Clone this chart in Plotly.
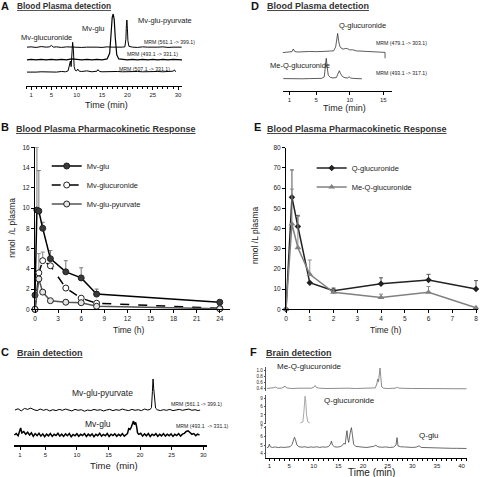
import plotly.graph_objects as go

W, H = 480, 477
FONT = "Liberation Sans, Arial, sans-serif"
INK = "#222222"

# ---------------- DATA ----------------
# Panel A: blood plasma chromatograms (time min, relative intensity %)
A_PYURVATE = [(0.2, 2), (1.0, 3), (2.0, 1), (3.0, 4), (4.0, 2), (4.6, 3), (5.0, 8), (5.4, 2), (6.0, 3), (7.0, 1),
              (8.0, 3), (9.0, 2), (10.0, 3), (11.0, 1), (12.0, 2), (13.0, 3), (14.0, 2), (15.0, 1), (16.0, 3),
              (17.0, 2), (18.0, 1), (19.0, 2), (19.5, 3), (19.7, 30), (19.8, 80), (19.9, 100), (20.0, 70),
              (20.1, 25), (20.3, 5), (20.6, 3), (21.0, 2), (22.0, 1), (23.0, 3), (24.0, 2), (25.0, 1), (26.0, 2),
              (27.0, 3), (28.0, 1), (29.0, 2), (30.0, 3), (30.7, 2)]
A_GLU = [(0.2, 1), (1.0, 2), (2.0, 1), (3.0, 2), (4.0, 1), (5.0, 2), (6.0, 1), (7.0, 2), (8.0, 1), (9.0, 3),
         (10.0, 2), (11.0, 1), (12.0, 2), (13.0, 1), (14.0, 2), (15.0, 1), (16.0, 3), (16.5, 15), (16.8, 60),
         (17.0, 92), (17.2, 100), (17.4, 88), (17.6, 50), (17.9, 12), (18.3, 3), (19.0, 2), (20.0, 1), (21.0, 2),
         (22.0, 1), (23.0, 2), (24.0, 1), (25.0, 2), (26.0, 1), (27.0, 2), (28.0, 1), (29.0, 2), (30.0, 1), (31.0, 1)]
A_GLUCURONIDE = [(0.2, 2), (1.0, 3), (2.0, 2), (3.0, 3), (4.0, 2), (5.0, 3), (6.0, 2), (7.0, 4), (7.8, 3), (8.3, 6),
                 (8.6, 30), (8.75, 38), (8.9, 20), (9.05, 60), (9.2, 100), (9.35, 75), (9.5, 20), (9.7, 8), (10.0, 6),
                 (10.2, 12), (10.5, 5), (11.0, 4), (12.0, 6), (13.0, 3), (14.0, 5), (14.2, 10), (14.5, 4), (15.0, 3),
                 (16.0, 4), (17.0, 3), (18.0, 4), (19.0, 3), (20.0, 4), (21.0, 3), (22.0, 4), (23.0, 3), (24.0, 4),
                 (25.0, 3), (26.0, 4), (27.0, 3), (28.0, 4), (29.0, 5), (29.3, 9), (29.5, 3)]
A_TICKS = [1, 5, 10, 15, 20, 25, 30]

# Panel D: blood plasma chromatograms
D_Q_GLUC = [(0.0, 0), (0.5, 2), (1.0, 3), (1.4, 5), (1.6, 19), (1.8, 6), (2.2, 3), (3.0, 5), (3.5, 4), (4.0, 6),
            (5.0, 5), (5.5, 7), (6.0, 6), (7.0, 8), (7.6, 9), (7.9, 30), (8.05, 75), (8.2, 100), (8.35, 60),
            (8.5, 35), (8.7, 24), (9.0, 18), (9.4, 22), (9.7, 20), (10.0, 14), (10.4, 15), (11.0, 9), (11.5, 8),
            (12.0, 6), (13.0, 4), (14.0, 3), (14.5, 2), (15.0, 2), (15.25, 1), (15.26, -30)]
D_MEQ_GLUC = [(0.1, 2), (1.0, 1), (2.0, 2), (3.0, 1), (4.0, 2), (5.0, 1), (5.8, 3), (6.2, 10), (6.35, 60),
              (6.5, 100), (6.65, 55), (6.8, 18), (7.1, 8), (7.5, 5), (8.0, 7), (8.3, 25), (8.45, 40), (8.6, 28),
              (8.9, 12), (9.3, 6), (9.7, 5), (9.9, 11), (10.1, 5), (10.5, 3), (11.0, 2), (11.8, 1)]
D_TICKS = [1, 5, 10, 15]

# Panel B: pharmacokinetics (nmol/L plasma vs h)
B_TIME = [0, 0.25, 0.5, 1, 2, 4, 6, 8, 24]
B_MVGLU = [1.4, 9.8, 9.7, 8.0, 5.0, 3.7, 3.1, 1.5, 0.7]
B_MVGLU_ERR = [0, 6.2, 4.0, 0.6, 0.8, 1.1, 1.0, 0.5, 0]
B_TIME2 = [0, 0.5, 1, 2, 4, 6, 8, 24]
B_GLUCURONIDE = [0, 3.6, 4.8, 4.3, 2.1, 1.1, 0.6, 0.1]
B_GLUCURONIDE_ERR = [0, 1.9, 0.85, 0, 0, 0, 0, 0]
B_PYURVATE = [0, 3.0, 1.7, 0.85, 0.7, 0.65, 0.3, 0.05]
B_PYURVATE_ERR = [0, 0, 0, 0, 0, 0, 0, 0]
B_XTICKS = [0, 3, 6, 9, 12, 15, 18, 21, 24]
B_YTICKS = [0, 2, 4, 6, 8, 10, 12, 14, 16]

# Panel E: pharmacokinetics
E_TIME = [0, 0.25, 0.5, 1, 2, 4, 6, 8]
E_Q = [0, 55.5, 41.0, 13.2, 9.2, 12.7, 14.5, 10.0]
E_Q_ERR = [0, 13.5, 5.5, 0, 1.3, 2.9, 2.8, 4.2]
E_MEQ = [0, 42.2, 30.5, 17.3, 8.4, 5.9, 8.4, 0.8]
E_MEQ_ERR = [0, 17.3, 15.5, 7.1, 1.6, 1.6, 2.9, 0]
E_XTICKS = [0, 1, 2, 3, 4, 5, 6, 7, 8]
E_YTICKS = [0, 10, 20, 30, 40, 50, 60, 70, 80]

# Panel C: brain chromatograms
C_PYURVATE = [(0.2, 0), (0.7, 4), (1.2, -3), (1.7, 5), (2.2, 2), (2.7, 6), (3.2, 1), (3.7, -2), (4.2, 3), (4.7, -1),
              (5.2, 2), (5.7, -3), (6.2, 1), (6.7, -2), (7.2, 2), (7.7, -1), (8.2, 3), (8.7, 0), (9.2, -3),
              (9.7, 2), (10.2, -1), (10.7, 1), (11.2, -4), (11.7, 0), (12.2, -2), (12.7, 2), (13.2, -1), (13.7, 1),
              (14.2, -3), (14.7, 0), (15.2, 2), (15.7, -2), (16.2, 1), (16.7, -1), (17.2, 3), (17.7, 0), (18.2, -2),
              (18.7, 2), (19.2, -1), (19.7, 1), (20.2, -2), (20.7, 3), (21.2, 0), (21.6, 2), (21.8, 8), (21.95, 60),
              (22.05, 100), (22.15, 70), (22.3, 25), (22.45, 6), (22.7, 1), (23.2, -2), (23.7, 1), (24.2, -1),
              (24.7, 2), (25.2, -2), (25.7, 0), (26.2, 2), (26.7, -1), (27.2, 1), (27.7, 3), (28.2, -1), (28.7, 1),
              (29.2, -2), (29.5, 0)]
C_GLU = [(0.1, 0), (0.4, 10), (0.7, -5), (0.9, 20), (1.1, 50), (1.3, 15), (1.6, 25), (1.9, 5), (2.2, 20), (2.5, 0),
         (2.8, 15), (3.1, -10), (3.4, 10), (3.7, -5), (4.0, 12), (4.3, -8), (4.6, 8), (4.9, -12), (5.2, 6),
         (5.5, -6), (5.8, 10), (6.1, -10), (6.4, 5), (6.7, -4), (7.0, 12), (7.3, -8), (7.6, 6), (7.9, -10),
         (8.2, 8), (8.5, -5), (8.8, 10), (9.1, -12), (9.4, 4), (9.7, -6), (10.0, 9), (10.3, -9), (10.6, 5),
         (10.9, -4), (11.2, 10), (11.5, -10), (11.8, 6), (12.1, -6), (12.4, 8), (12.7, -12), (13.0, 5), (13.3, -5),
         (13.6, 12), (13.9, -8), (14.2, 4), (14.5, -6), (14.8, 10), (15.1, -10), (15.4, 6), (15.7, -4), (16.0, 8),
         (16.3, -9), (16.6, 5), (16.9, -6), (17.2, 10), (17.5, -8), (17.8, 6), (18.0, 10), (18.2, 45), (18.4, 40),
         (18.6, 55), (18.8, 80), (18.95, 100), (19.1, 75), (19.3, 90), (19.45, 60), (19.6, 15), (19.8, 5),
         (20.1, 12), (20.4, -8), (20.7, 8), (21.0, -6), (21.3, 10), (21.6, -10), (21.9, 6), (22.2, -4), (22.5, 9),
         (22.8, -9), (23.1, 5), (23.4, -6), (23.7, 10), (24.0, -8), (24.3, 6), (24.6, -5), (24.9, 8), (25.2, -10),
         (25.5, 5), (25.8, -4), (26.1, 10), (26.4, -8), (26.7, 6), (27.0, 12), (27.3, 25), (27.6, 30), (27.9, 15),
         (28.2, 5), (28.5, 10), (28.8, -5), (29.1, 6), (29.4, 0)]
C_TICKS = [1, 5, 10, 15, 20, 25, 30]

# Panel F: brain chromatograms (own intensity scales)
F_MEQ_GLUC = [(0.5, 0.40), (1.5, 0.41), (2.0, 0.43), (2.3, 0.45), (2.6, 0.41), (3.5, 0.41), (3.9, 0.44), (4.2, 0.48),
              (4.5, 0.42), (5.5, 0.40), (7.0, 0.41), (8.5, 0.40), (9.5, 0.41), (10.0, 0.44), (10.3, 0.50),
              (10.6, 0.43), (11.2, 0.41), (12.5, 0.40), (14.0, 0.41), (15.5, 0.40), (17.0, 0.41), (18.5, 0.40),
              (20.0, 0.41), (21.5, 0.40), (22.5, 0.42), (22.8, 0.55), (23.0, 0.72), (23.15, 0.62), (23.3, 0.95),
              (23.45, 1.08), (23.6, 0.80), (23.8, 0.45), (24.2, 0.41), (25.0, 0.40), (26.5, 0.41), (27.0, 0.44),
              (27.3, 0.41), (28.5, 0.40), (30.0, 0.40), (32.0, 0.40), (34.0, 0.40), (36.0, 0.39), (38.0, 0.39),
              (40.0, 0.39), (41.0, 0.39)]
F_Q_GLUC = [(7.3, 0.1), (7.8, 0.5), (8.0, 4.0), (8.15, 8.5), (8.25, 9.8), (8.4, 7.5), (8.55, 3.0), (8.8, 0.5),
            (9.2, 0.1)]
F_Q_GLU = [(0.5, 4.70), (0.8, 4.75), (1.0, 5.10), (1.2, 4.80), (1.6, 4.72), (2.2, 4.78), (2.8, 4.70), (3.4, 4.76),
           (4.0, 4.72), (4.6, 4.78), (5.2, 4.80), (5.6, 5.05), (5.9, 5.70), (6.1, 5.90), (6.3, 5.60), (6.6, 5.00),
           (7.0, 4.80), (7.6, 4.75), (8.2, 4.80), (8.8, 4.72), (9.4, 4.78), (10.0, 4.74), (10.6, 4.80), (11.2, 4.72),
           (11.8, 4.78), (12.4, 4.75), (13.0, 4.82), (13.4, 5.10), (13.6, 5.45), (13.8, 5.00), (14.2, 4.80),
           (14.8, 4.76), (15.4, 4.82), (15.8, 4.95), (16.1, 5.20), (16.4, 5.10), (16.6, 6.10), (16.75, 6.65),
           (16.9, 5.80), (17.1, 5.30), (17.4, 6.40), (17.65, 7.00), (17.85, 6.20), (18.1, 5.10), (18.5, 4.85),
           (19.2, 4.78), (20.0, 4.75), (20.8, 4.72), (21.6, 4.78), (22.2, 4.85), (22.6, 4.98), (23.0, 4.80),
           (23.8, 4.74), (24.6, 4.78), (25.4, 4.72), (26.2, 4.76), (26.7, 5.00), (26.9, 5.85), (27.1, 4.90),
           (27.6, 4.80), (28.4, 4.78), (29.2, 4.74), (30.0, 4.72), (30.8, 4.76), (31.4, 4.90), (31.8, 4.72),
           (32.6, 4.70), (33.4, 4.68), (34.2, 4.70), (35.0, 4.66), (36.0, 4.68), (37.0, 4.64), (38.0, 4.62),
           (39.0, 4.62), (40.0, 4.60), (41.0, 4.60)]
F_XTICKS = [1, 5, 10, 15, 20, 25, 30, 35, 40]


# ---------------- helpers (layout only) ----------------
def xdom(a, b):
    return [a / W, b / W]


def ydom(top, bottom):
    return [1 - bottom / H, 1 - top / H]


def chrom_y(base_px, peak_px, lo, hi=104):
    scale = (base_px - peak_px) / 100.0
    return dict(domain=ydom(base_px - hi * scale, base_px - lo * scale),
                range=[lo, hi], visible=False, fixedrange=True, automargin=False)


def unzip(pairs):
    return [p[0] for p in pairs], [p[1] for p in pairs]


def xaxis_common(**kw):
    d = dict(showline=True, linecolor="black", linewidth=1, ticks="outside", ticklen=3,
             tickcolor="black", tickfont=dict(size=6, family=FONT, color=INK),
             showgrid=False, zeroline=False, fixedrange=True, automargin=False)
    d.update(kw)
    return d


def yaxis_common(**kw):
    d = dict(showline=True, linecolor="black", linewidth=1, ticks="outside", ticklen=3,
             tickcolor="black", tickmode="array", tickfont=dict(size=6.5, family=FONT, color=INK),
             showgrid=False, zeroline=False, fixedrange=True, automargin=False)
    d.update(kw)
    return d


fig = go.Figure()


def chrom(pairs, xa, ya, color="black", width=1.0):
    t, v = unzip(pairs)
    fig.add_trace(go.Scatter(x=t, y=v, xaxis=xa, yaxis=ya, mode="lines",
                             line=dict(color=color, width=width), showlegend=False,
                             hoverinfo="skip"))


# Panel A
chrom(A_PYURVATE, "x", "y", width=1.0)
chrom(A_GLU, "x", "y2", width=1.2)
chrom(A_GLUCURONIDE, "x", "y3", width=1.0)
# Panel D
chrom(D_Q_GLUC, "x2", "y4", color="#333333", width=0.8)
chrom(D_MEQ_GLUC, "x2", "y5", color="#333333", width=0.8)
# Panel C
chrom(C_PYURVATE, "x5", "y8", width=1.0)
chrom(C_GLU, "x5", "y9", width=1.5)
# Panel F
chrom(F_MEQ_GLUC, "x6", "y10", color="#6e6e6e", width=0.8)
chrom(F_Q_GLUC, "x6", "y11", color="#a8a8a8", width=1.0)
chrom(F_Q_GLU, "x6", "y12", color="#444444", width=0.8)

# Panel B pharmacokinetics
fig.add_trace(go.Scatter(x=B_TIME, y=B_MVGLU, xaxis="x3", yaxis="y6", mode="lines+markers", name="Mv-glu",
                         line=dict(color="black", width=1.5),
                         marker=dict(symbol="circle", size=6, color="#3a3a3a", line=dict(color="#222", width=1)),
                         error_y=dict(type="data", array=B_MVGLU_ERR, arrayminus=[0] * len(B_MVGLU_ERR),
                                      symmetric=False, color="#777", thickness=1, width=2),
                         cliponaxis=False, legend="legend"))
fig.add_trace(go.Scatter(x=B_TIME2, y=B_GLUCURONIDE, xaxis="x3", yaxis="y6", mode="lines+markers",
                         name="Mv-glucuronide",
                         line=dict(color="black", width=1.5, dash="dash"),
                         marker=dict(symbol="circle", size=6, color="white", line=dict(color="#222", width=1)),
                         error_y=dict(type="data", array=B_GLUCURONIDE_ERR,
                                      arrayminus=[0] * len(B_GLUCURONIDE_ERR),
                                      symmetric=False, color="#888", thickness=1, width=2),
                         cliponaxis=False, legend="legend"))
fig.add_trace(go.Scatter(x=B_TIME2, y=B_PYURVATE, xaxis="x3", yaxis="y6", mode="lines+markers",
                         name="Mv-glu-pyurvate",
                         line=dict(color="#555555", width=1.5),
                         marker=dict(symbol="circle", size=6, color="#e4e4e4", line=dict(color="#222", width=1)),
                         error_y=dict(type="data", array=B_PYURVATE_ERR, arrayminus=[0] * len(B_PYURVATE_ERR),
                                      symmetric=False, color="#888", thickness=1, width=2),
                         cliponaxis=False, legend="legend"))

# Panel E pharmacokinetics
fig.add_trace(go.Scatter(x=E_TIME, y=E_Q, xaxis="x4", yaxis="y7", mode="lines+markers", name="Q-glucuronide",
                         line=dict(color="#222222", width=1.5),
                         marker=dict(symbol="diamond", size=5, color="#222222"),
                         error_y=dict(type="data", array=E_Q_ERR, arrayminus=[0] * len(E_Q_ERR),
                                      symmetric=False, color="#555", thickness=1, width=2),
                         cliponaxis=False, legend="legend2"))
fig.add_trace(go.Scatter(x=E_TIME, y=E_MEQ, xaxis="x4", yaxis="y7", mode="lines+markers", name="Me-Q-glucuronide",
                         line=dict(color="#808080", width=1.5),
                         marker=dict(symbol="triangle-up", size=6, color="#808080"),
                         error_y=dict(type="data", array=E_MEQ_ERR, arrayminus=[0] * len(E_MEQ_ERR),
                                      symmetric=False, color="#8a8a8a", thickness=1, width=2),
                         cliponaxis=False, legend="legend2"))

minor_1 = dict(tickmode="linear", tick0=0, dtick=1, ticks="outside", ticklen=1.5, tickcolor="black")
fy = dict(size=4.5, family=FONT, color=INK)

layout = dict(
    template="none",
    width=W, height=H, autosize=False,
    margin=dict(l=0, r=0, t=0, b=0, pad=0, autoexpand=False),
    paper_bgcolor="white", plot_bgcolor="rgba(0,0,0,0)",
    font=dict(family=FONT, color=INK),
    # Panel A
    xaxis=xaxis_common(domain=xdom(26, 182), range=[0, 30.77], anchor="free", position=1 - 86 / H,
                       tickmode="array", tickvals=A_TICKS, minor=minor_1),
    yaxis=chrom_y(47.7, 20.0, -12),
    yaxis2=chrom_y(60.3, 14.0, -8),
    yaxis3=chrom_y(72.7, 42.3, -12),
    # Panel D
    xaxis2=xaxis_common(domain=xdom(282.6, 392), range=[0, 16.29], anchor="free", position=1 - 90.7 / H,
                        tickmode="array", tickvals=D_TICKS, linewidth=1.2),
    yaxis4=chrom_y(52.6, 33.5, -35),
    yaxis5=chrom_y(79.0, 58.3, -12),
    # Panel B
    xaxis3=xaxis_common(domain=xdom(35, 229.8), range=[0, 25.3], anchor="y6",
                        tickmode="array", tickvals=B_XTICKS,
                        tickfont=dict(size=6.5, family=FONT, color=INK)),
    yaxis6=yaxis_common(domain=ydom(147.3, 309.3), range=[0, 16], anchor="x3", tickvals=B_YTICKS),
    # Panel E
    xaxis4=xaxis_common(domain=xdom(286, 478.4), range=[0, 8.1], anchor="y7",
                        tickmode="array", tickvals=E_XTICKS,
                        tickfont=dict(size=6.5, family=FONT, color=INK)),
    yaxis7=yaxis_common(domain=ydom(147.7, 309.3), range=[0, 80], anchor="x4", tickvals=E_YTICKS),
    # Panel C
    xaxis5=xaxis_common(domain=xdom(13.7, 206.7), range=[0, 30.54], anchor="free", position=1 - 445.7 / H,
                        tickmode="array", tickvals=C_TICKS, linewidth=1.6),
    yaxis8=chrom_y(410.0, 379.0, -15),
    yaxis9=chrom_y(435.0, 421.0, -30),
    # Panel F
    xaxis6=xaxis_common(domain=xdom(266, 467), range=[0.32, 41.1], anchor="y12",
                        tickmode="array", tickvals=F_XTICKS, minor=minor_1, ticklen=2,
                        ticklabelstandoff=-1),
    yaxis10=yaxis_common(domain=ydom(366.9, 390.6), range=[0.33, 1.12], anchor="x6", linecolor="#555",
                         linewidth=0.8, ticklen=1.5, tickcolor="#555",
                         tickvals=[0.4, 0.6, 0.8, 1.0], ticktext=["0.4", "0.6", "0.8", "1.0"], tickfont=fy),
    yaxis11=yaxis_common(domain=ydom(394.7, 424.4), range=[-0.4, 10.3], anchor="x6", linecolor="#555",
                         linewidth=0.8, ticklen=1.5, tickcolor="#555", tickvals=[0, 3, 6, 9], tickfont=fy),
    yaxis12=yaxis_common(domain=ydom(425.5, 458.3), range=[3.47, 7.25], anchor="x6", linecolor="#555",
                         linewidth=0.8, ticklen=1.5, tickcolor="#555", tickvals=[4, 5, 6, 7], tickfont=fy),
    legend=dict(x=46.7 / W, y=1 - 151.5 / H, xanchor="left", yanchor="top", bgcolor="rgba(0,0,0,0)",
                font=dict(size=7.5, family=FONT, color=INK), itemwidth=30, tracegroupgap=0, borderwidth=0),
    legend2=dict(x=311.7 / W, y=1 - 153.5 / H, xanchor="left", yanchor="top", bgcolor="rgba(0,0,0,0)",
                 font=dict(size=7.5, family=FONT, color=INK), itemwidth=30, tracegroupgap=0, borderwidth=0),
    showlegend=True,
)
fig.update_layout(**layout)

ann = []


def label(text, x, y, size, bold=False, angle=0, color=INK, xanchor="center"):
    if bold:
        text = "<b>" + text + "</b>"
    ann.append(dict(text=text, x=x / W, y=1 - y / H, xref="paper", yref="paper", showarrow=False,
                    xanchor=xanchor, yanchor="middle", textangle=angle,
                    font=dict(size=size, family=FONT, color=color)))


# panel letters and titles
for letter, lx, ly in [("A", 5, 6), ("D", 255, 6), ("B", 5, 127), ("E", 257, 127), ("C", 5, 352), ("F", 253, 352)]:
    label(letter, lx, ly, 11, bold=True, color="#111")
label("<u>Blood Plasma detection</u>", 64, 6.5, 8.3, bold=True, color="#333")
label("<u>Blood Plasma detection</u>", 318.3, 6.5, 9, bold=True, color="#333")
label("<u>Blood Plasma Pharmacokinetic Response</u>", 105.8, 129, 9, bold=True, color="#333")
label("<u>Blood Plasma Pharmacokinetic Response</u>", 356.7, 129, 9, bold=True, color="#333")
label("<u>Brain detection</u>", 50, 352.5, 9, bold=True, color="#333")
label("<u>Brain detection</u>", 298.7, 352.5, 9, bold=True, color="#333")

# panel A
label("Mv-glucuronide", 46.3, 37.7, 7.5)
label("Mv-glu", 93.3, 28.7, 7.5)
label("Mv-glu-pyurvate", 165, 20.7, 7.5)
label("MRM (561.1 -&gt; 399.1)", 169.7, 42.3, 5.2)
label("MRM (493.1 -&gt; 331.1)", 152, 54.3, 5.2)
label("MRM (507.1 -&gt; 331.1)", 144, 69, 5.2)
label("Time (min)", 106.7, 105, 9)
# panel D
label("Q-glucuronide", 362, 26, 7.5)
label("Me-Q-glucuronide", 299.5, 65.7, 7.5)
label("MRM (479.1 -&gt; 303.1)", 401.5, 42.7, 5.2)
label("MRM (493.1 -&gt; 317.1)", 401.5, 73.3, 5.2)
label("Time (min)", 344, 108, 9)
# panel B / E axis titles
label("Time (h)", 128, 330, 8.5)
label("Time (h)", 385, 330, 8.5)
label("nmol  /L plasma", 11.7, 228, 8.5, angle=-90)
label("nmol /L plasma", 255, 235, 8.5, angle=-90)
# panel C
label("Mv-glu-pyurvate", 102, 393.3, 8.5)
label("Mv-glu", 97.8, 424, 8.5)
label("MRM (561.1 -&gt; 399.1)", 196, 404.3, 5.2)
label("MRM (493.1  -&gt; 331.1)", 202.7, 426, 5.2)
label("Time  (min)", 114, 465, 9.5)
# panel F
label("Me-Q-glucuronide", 309, 366, 8)
label("Q-glucuronide", 349.3, 400.7, 8)
label("Q-glu", 428.7, 435, 8)
label("Time (min)", 371.7, 472.3, 10)

fig.update_layout(annotations=ann)
fig.write_html("out.html", config={"displayModeBar": False},
               post_script="document.body.style.margin='0px';document.body.style.padding='0px';")
